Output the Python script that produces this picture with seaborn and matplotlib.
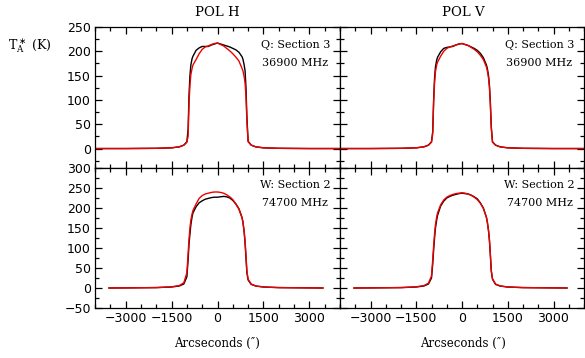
import numpy as np
import pandas as pd
import matplotlib
matplotlib.use("Agg")
import matplotlib.pyplot as plt
from matplotlib.ticker import MultipleLocator
import seaborn as sns

# ---------------- data ----------------
x_top = [-4000, -3000, -2000, -1500, -1250, -1100, -1000, -960, -930, -900, -870, -830, -800,
         -700, -600, -500, -400, -300, -200, -100, 0, 100, 200, 300, 400, 500, 600, 700,
         800, 830, 870, 900, 930, 960, 1000, 1100, 1250, 1500, 2000, 3000, 4000]
x_bot = [-3550, -3000, -2000, -1500, -1250, -1100, -1000, -960, -930, -900, -870, -830, -800,
         -700, -600, -500, -400, -300, -200, -100, 0, 100, 200, 300, 400, 500, 600, 700,
         800, 830, 870, 900, 930, 960, 1000, 1100, 1250, 1500, 2000, 3000, 3450]

q_polh_black = [0, 0, 0.5, 1.5, 3.5, 7, 14, 40, 110, 150, 172, 185, 190,
                202, 207, 210, 210, 210, 213, 215, 217, 215, 213, 211, 209, 206, 203, 198,
                189, 184, 172, 160, 125, 65, 15, 7, 3.5, 1.5, 0.5, 0, 0]
q_polh_red = [0, 0, 0.5, 1.5, 3.5, 7, 13, 25, 92, 130, 152, 165, 172,
              183, 195, 204, 209, 211, 214, 216, 217, 214, 211, 206, 201, 195, 188, 180,
              165, 160, 148, 135, 108, 55, 14, 7, 3.5, 1.5, 0.5, 0, 0]
q_polv_black = [0, 0, 0.5, 1.5, 3.5, 7, 14, 35, 100, 145, 168, 182, 188,
                199, 206, 208, 209, 210, 213, 215, 216, 214, 212, 209, 206, 202, 196, 187,
                172, 165, 150, 130, 95, 45, 14, 7, 3.5, 1.5, 0.5, 0, 0]
q_polv_red = [0, 0, 0.5, 1.5, 3.5, 7, 13, 30, 95, 135, 158, 172, 178,
              190, 200, 206, 209, 211, 213, 215, 216, 214, 212, 208, 204, 199, 192, 183,
              168, 160, 145, 125, 90, 42, 13, 7, 3.5, 1.5, 0.5, 0, 0]
w_polh_black = [0, 0.3, 1, 2.5, 5, 10, 28, 70, 110, 135, 158, 178, 188,
                203, 213, 218, 222, 224, 226, 227, 227, 228, 229, 228, 225, 219, 210, 198,
                176, 165, 140, 112, 75, 38, 20, 9, 5, 2.5, 1, 0.3, 0]
w_polh_red = [0, 0.3, 1, 3, 6, 13, 38, 85, 122, 150, 170, 185, 194,
              210, 224, 231, 235, 237, 239, 240, 240, 239, 237, 233, 228, 221, 210, 197,
              176, 165, 142, 118, 82, 42, 22, 10, 5, 2.5, 1, 0.3, 0]
w_polv_black = [0, 0.3, 1, 2.5, 5, 10, 25, 60, 95, 125, 150, 170, 182,
                205, 217, 225, 229, 232, 234, 236, 237, 236, 235, 232, 228, 223, 213, 200,
                177, 165, 143, 118, 82, 42, 22, 9, 5, 2.5, 1, 0.3, 0]
w_polv_red = [0, 0.3, 1, 3, 6, 12, 30, 70, 105, 135, 158, 178, 188,
              208, 220, 227, 231, 234, 236, 237, 238, 237, 235, 232, 227, 221, 212, 199,
              177, 165, 143, 120, 84, 44, 23, 10, 5, 2.5, 1, 0.3, 0]

pol_titles = ["POL H", "POL V"]
band_labels = [("Q: Section 3", "36900 MHz"), ("W: Section 2", "74700 MHz")]
x_ticks = [-3000, -1500, 0, 1500, 3000]
ylabel = r"T$_\mathregular{A}^\ast$ (K)"
xlabel = "Arcseconds (\u2033)"

# ---------------- figure ----------------
sns.set_style("ticks")
plt.rcParams["font.family"] = ["DejaVu Sans"]
plt.rcParams["axes.linewidth"] = 0.9
plt.rcParams["text.color"] = "black"
plt.rcParams["axes.labelcolor"] = "black"
plt.rcParams["xtick.color"] = "black"
plt.rcParams["ytick.color"] = "black"
plt.rcParams["axes.edgecolor"] = "black"

W, H = 585, 358
fig = plt.figure(figsize=(W / 100, H / 100), dpi=100)

def fx(px):
    return px / W

def fy(py):
    return 1 - py / H

xl, xm, xr = 95, 340, 584
yt, ymid, yb = 27, 168, 308
ax_tl = fig.add_axes([fx(xl), fy(ymid), fx(xm - xl), (ymid - yt) / H])
ax_tr = fig.add_axes([fx(xm), fy(ymid), fx(xr - xm), (ymid - yt) / H])
ax_bl = fig.add_axes([fx(xl), fy(yb), fx(xm - xl), (yb - ymid) / H])
ax_br = fig.add_axes([fx(xm), fy(yb), fx(xr - xm), (yb - ymid) / H])

panels = [
    (ax_tl, x_top, q_polh_black, q_polh_red, (-40, 250), 0),
    (ax_tr, x_top, q_polv_black, q_polv_red, (-40, 250), 0),
    (ax_bl, x_bot, w_polh_black, w_polh_red, (-50, 300), 1),
    (ax_br, x_bot, w_polv_black, w_polv_red, (-50, 300), 1),
]

serif = ["DejaVu Serif"]
for i, (ax, xs, yk, yr, ylim, row) in enumerate(panels):
    df = pd.DataFrame({"x": xs, "black": yk, "red": yr})
    sns.lineplot(data=df, x="x", y="black", ax=ax, color="black", lw=1.0, estimator=None)
    sns.lineplot(data=df, x="x", y="red", ax=ax, color="#ee0000", lw=1.0, estimator=None)
    ax.set_xlim(-4000, 4000)
    ax.set_ylim(*ylim)
    ax.set_xticks(x_ticks)
    ax.xaxis.set_minor_locator(MultipleLocator(500))
    ax.yaxis.set_major_locator(MultipleLocator(50))
    ax.yaxis.set_minor_locator(MultipleLocator(25))
    ax.tick_params(which="both", direction="in", top=True, right=True, width=0.9,
                   labelsize=9, pad=3, colors="black")
    ax.tick_params(which="major", length=5)
    ax.tick_params(which="minor", length=2.6)
    ax.set_xlabel("")
    ax.set_ylabel("")
    col = i % 2
    if col == 1:
        ax.tick_params(labelleft=False)
    if row == 0:
        ax.tick_params(labelbottom=False)
        ax.set_yticks([0, 50, 100, 150, 200, 250])
    l1, l2 = band_labels[row]
    yy = (213, 176) if row == 0 else (257, 212)
    ax.text(2540, yy[0], l1, ha="center", va="center", fontsize=8, family=serif)
    ax.text(2540, yy[1], l2, ha="center", va="center", fontsize=8, family=serif)
    for s in ax.spines.values():
        s.set_visible(True)
        s.set_color("black")

ax_bl.set_yticks([-50, 0, 50, 100, 150, 200, 250, 300])

fig.text(fx(217), fy(12), pol_titles[0], ha="center", va="center", fontsize=9.5, family=serif)
fig.text(fx(463), fy(12), pol_titles[1], ha="center", va="center", fontsize=9.5, family=serif)
fig.text(fx(217), fy(343), xlabel, ha="center", va="center", fontsize=8.5, family=serif)
fig.text(fx(463), fy(343), xlabel, ha="center", va="center", fontsize=8.5, family=serif)
fig.text(fx(8), fy(46), ylabel, ha="left", va="center", fontsize=9, family=serif)

fig.savefig("out.png", dpi=100)
